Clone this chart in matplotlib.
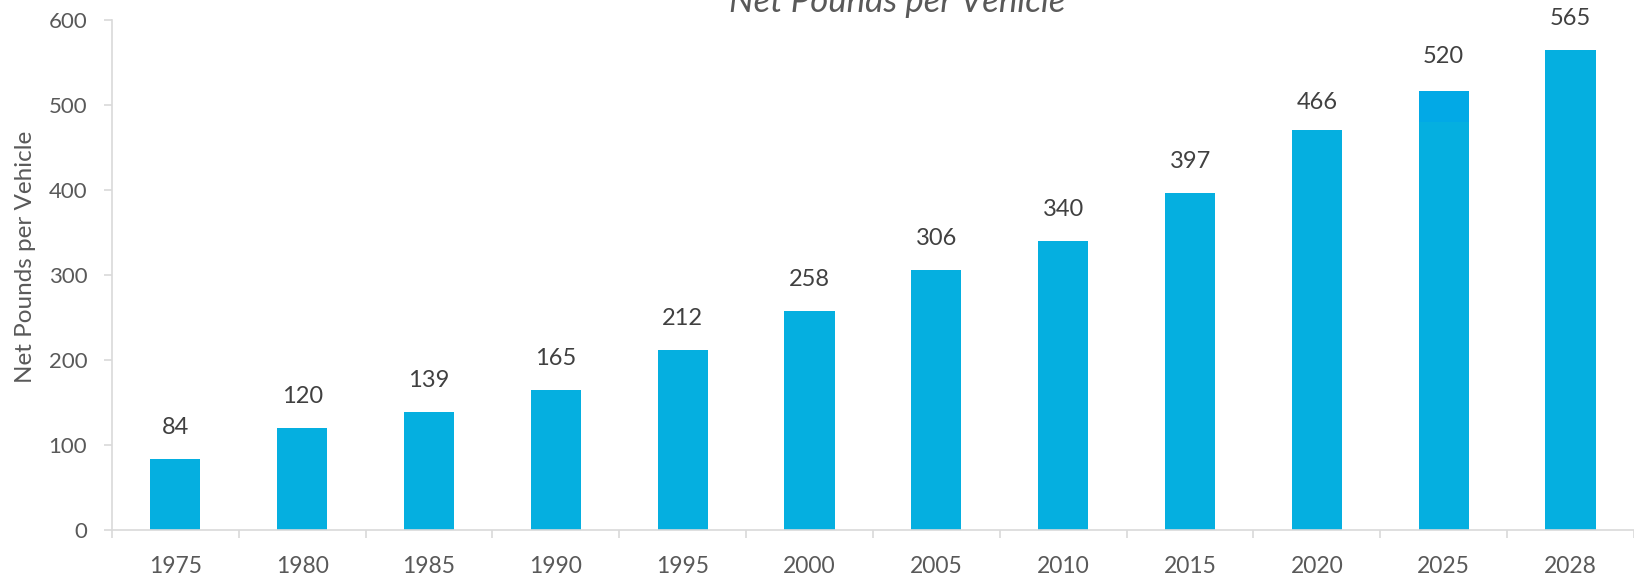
import numpy as np
import matplotlib.pyplot as plt

# data
years = ["1975", "1980", "1985", "1990", "1995", "2000", "2005", "2010", "2015", "2020", "2025", "2028"]
labels = [84, 120, 139, 165, 212, 258, 306, 340, 397, 466, 520, 565]
# drawn bar heights (a couple of bars in the source don't match their labels exactly)
bar_heights = [84, 120, 139, 165, 212, 258, 306, 340, 397, 471, 516, 565]
# the 2025 bar has a slightly darker top segment starting here
split_2025 = 480

plt.rcParams['font.family'] = ['Lato', 'DejaVu Sans']

fig = plt.figure(figsize=(16.34, 5.75), dpi=100)
ax = fig.add_axes([0.0685, 0.0783, 0.9315, 0.8869])

bar_color = "#05AFE0"
top_color = "#02A9E6"
x = np.arange(len(years))
w = 0.396

lower = list(bar_heights)
lower[10] = split_2025
ax.bar(x, lower, width=w, color=bar_color, zorder=2)
ax.bar(x[10], bar_heights[10] - split_2025, bottom=split_2025, width=w, color=top_color, zorder=2)

for xi, lab in zip(x, labels):
    ax.annotate(str(lab), (xi, lab), xytext=(0, 15), textcoords="offset points",
                ha="center", va="bottom", fontsize=17, color="#404040")

ax.set_xlim(-0.5, len(years) - 0.5)
ax.set_ylim(0, 600)
ax.set_yticks(range(0, 601, 100))
ax.set_xticks(x)
ax.set_xticklabels(years)
ax.set_xticks(np.arange(-0.5, len(years)), minor=True)

grey = "#D9D9D9"
for s in ["top", "right"]:
    ax.spines[s].set_visible(False)
ax.spines["left"].set_color(grey)
ax.spines["bottom"].set_color(grey)
ax.spines["left"].set_linewidth(1.2)
ax.spines["bottom"].set_linewidth(1.2)

ax.tick_params(axis="x", which="major", length=0, pad=19, labelsize=16.5, labelcolor="#595959")
ax.tick_params(axis="x", which="minor", length=6, width=1.2, color=grey)
ax.tick_params(axis="y", length=5.8, width=1.2, color=grey, pad=12, labelsize=16, labelcolor="#595959")

fig.text(0.0159, 0.553, "Net Pounds per Vehicle", rotation=90, ha="center", va="center",
         fontsize=17.5, color="#595959")
fig.text(0.549, 0.979, "Net Pounds per Vehicle", ha="center", va="baseline",
         fontsize=25, style="italic", color="#595959")

fig.savefig("out.png", dpi=100)
